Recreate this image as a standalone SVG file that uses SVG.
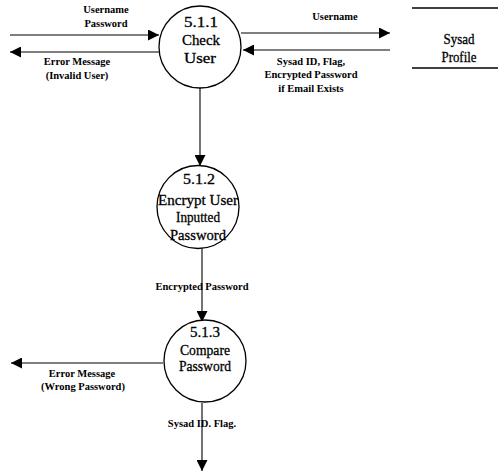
<svg xmlns="http://www.w3.org/2000/svg" width="498" height="476" viewBox="0 0 498 476">
  <style>
    .proc { fill: #ffffff; stroke: #000000; stroke-width: 1.3; }
    .flow { fill: none; stroke: #000000; stroke-width: 1.1; }
    .store { stroke: #000000; stroke-width: 1.3; }
    .ptxt { font-family: "Liberation Serif", "Times New Roman", serif; font-size: 15px; fill: #000000; stroke: #000000; stroke-width: 0.3; text-anchor: middle; }
    .lbl { font-family: "Liberation Serif", "Times New Roman", serif; font-size: 10.5px; font-weight: bold; fill: #000000; text-anchor: middle; }
  </style>
  <defs>
    <marker id="arrow" viewBox="0 0 10 10" refX="10" refY="5" markerWidth="11" markerHeight="11" markerUnits="userSpaceOnUse" orient="auto">
      <path d="M0,0 L10,5 L0,10 Z" fill="#000000"/>
    </marker>
  </defs>

  <!-- data flows -->
  <g id="connectors">
    <line class="flow" x1="10" y1="35" x2="159" y2="35" marker-end="url(#arrow)"/>
    <line class="flow" x1="159" y1="52" x2="10" y2="52" marker-end="url(#arrow)"/>
    <line class="flow" x1="241" y1="33" x2="390" y2="33" marker-end="url(#arrow)"/>
    <line class="flow" x1="390" y1="50" x2="243" y2="50" marker-end="url(#arrow)"/>
    <line class="flow" x1="200" y1="88" x2="200" y2="166" marker-end="url(#arrow)"/>
    <line class="flow" x1="202" y1="248" x2="202" y2="322" marker-end="url(#arrow)"/>
    <line class="flow" x1="163" y1="363" x2="11" y2="363" marker-end="url(#arrow)"/>
    <line class="flow" x1="202" y1="403" x2="202" y2="471" marker-end="url(#arrow)"/>

    <text class="lbl" x="106" y="13">Username</text>
    <text class="lbl" x="106" y="27">Password</text>
    <text class="lbl" x="77" y="65">Error Message</text>
    <text class="lbl" x="77" y="79">(Invalid User)</text>
    <text class="lbl" x="335" y="20">Username</text>
    <text class="lbl" x="311" y="65">Sysad ID, Flag,</text>
    <text class="lbl" x="311" y="78">Encrypted Password</text>
    <text class="lbl" x="311" y="92">if Email Exists</text>
    <text class="lbl" x="202" y="290">Encrypted Password</text>
    <text class="lbl" x="82" y="377">Error Message</text>
    <text class="lbl" x="83" y="390">(Wrong Password)</text>
    <text class="lbl" x="202" y="427">Sysad ID. Flag.</text>
  </g>

  <!-- process 5.1.1 -->
  <g id="p511">
    <circle class="proc" cx="200" cy="47" r="41"/>
    <text class="ptxt" x="201" y="27" textLength="34" lengthAdjust="spacingAndGlyphs">5.1.1</text>
    <text class="ptxt" x="201" y="45" textLength="38" lengthAdjust="spacingAndGlyphs">Check</text>
    <text class="ptxt" x="200" y="63" textLength="32" lengthAdjust="spacingAndGlyphs">User</text>
  </g>

  <!-- process 5.1.2 -->
  <g id="p512">
    <ellipse class="proc" cx="198" cy="207" rx="41" ry="41.5"/>
    <text class="ptxt" x="199" y="184" textLength="32" lengthAdjust="spacingAndGlyphs">5.1.2</text>
    <text class="ptxt" x="198" y="205" textLength="80" lengthAdjust="spacingAndGlyphs">Encrypt User</text>
    <text class="ptxt" x="198" y="222" textLength="44" lengthAdjust="spacingAndGlyphs">Inputted</text>
    <text class="ptxt" x="198" y="240" textLength="56" lengthAdjust="spacingAndGlyphs">Password</text>
  </g>

  <!-- process 5.1.3 -->
  <g id="p513">
    <circle class="proc" cx="205" cy="361" r="41"/>
    <text class="ptxt" x="205" y="337" textLength="30" lengthAdjust="spacingAndGlyphs">5.1.3</text>
    <text class="ptxt" x="205" y="355" textLength="50" lengthAdjust="spacingAndGlyphs">Compare</text>
    <text class="ptxt" x="205" y="371" textLength="52" lengthAdjust="spacingAndGlyphs">Password</text>
  </g>

  <!-- data store -->
  <g id="sysad-profile">
    <line class="store" x1="412" y1="8" x2="498" y2="8"/>
    <line class="store" x1="412" y1="68" x2="498" y2="68"/>
    <text class="ptxt" x="459" y="44" textLength="31" lengthAdjust="spacingAndGlyphs">Sysad</text>
    <text class="ptxt" x="459" y="62" textLength="35" lengthAdjust="spacingAndGlyphs">Profile</text>
  </g>
</svg>
